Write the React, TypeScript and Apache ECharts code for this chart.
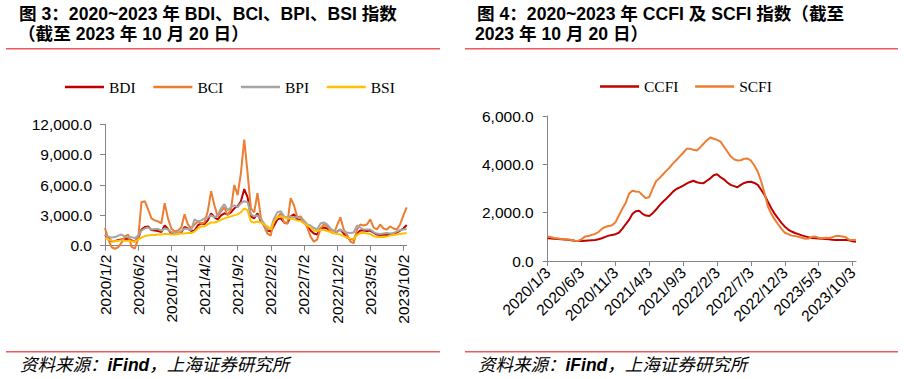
import React, { useEffect, useRef } from "react";
import * as echarts from "echarts";

// ---------- Data ----------
const leftTicks = ["2020/1/2", "2020/6/2", "2020/11/2", "2021/4/2", "2021/9/2", "2022/2/2", "2022/7/2", "2022/12/2", "2023/5/2", "2023/10/2"];
const rightTicks = ["2020/1/3", "2020/6/3", "2020/11/3", "2021/4/3", "2021/9/3", "2022/2/3", "2022/7/3", "2022/12/3", "2023/5/3", "2023/10/3"];

function halfMonthDates(d1: number, d2: number): string[] {
  const out: string[] = [];
  for (let y = 2020; y <= 2023; y++) {
    for (let m = 1; m <= 12; m++) {
      if (y === 2023 && m > 10) break;
      out.push(`${y}/${m}/${d1}`, `${y}/${m}/${d2}`);
    }
  }
  out[out.length - 1] = "2023/10/20";
  return out;
}
const leftCategories = halfMonthDates(2, 17);
const rightCategories = halfMonthDates(3, 18);

const BDI = [1100, 770, 440, 450, 560, 620, 640, 680, 520, 420, 750, 1600, 1850, 1900, 1550, 1500, 1450, 1350, 2000, 1650, 1200, 1150, 1200, 1300, 1850, 1700, 1450, 1500, 2000, 2200, 2150, 2500, 3200, 2800, 2600, 3000, 3200, 3100, 3300, 3700, 3900, 4400, 5600, 4800, 2900, 2700, 3200, 2400, 2000, 1500, 1400, 2000, 2600, 2700, 2300, 2200, 2900, 3100, 2600, 2600, 2400, 2000, 1500, 1200, 1100, 1700, 1800, 1700, 1400, 1250, 1400, 1600, 1200, 800, 650, 600, 1200, 1500, 1500, 1450, 1500, 1300, 1100, 1050, 1100, 1050, 1150, 1100, 1300, 1500, 1700, 2050];
const BCI = [1750, 600, -150, -300, -150, 300, 900, 1100, -100, -300, 700, 4300, 4400, 3600, 2700, 2500, 2400, 2200, 4200, 2700, 1700, 1400, 1500, 1800, 3100, 2100, 1700, 2100, 2400, 2200, 2300, 3400, 5400, 4000, 2900, 3400, 3800, 3000, 3600, 6000, 5000, 7200, 10500, 7200, 3700, 3300, 5200, 2800, 1900, 1200, 1000, 2600, 2800, 3200, 2300, 2200, 4700, 4000, 2800, 2900, 2400, 1800, 900, 400, 600, 1700, 2100, 1900, 1500, 1200, 2000, 2800, 1600, 1100, 400, 250, 1600, 2100, 2000, 2100, 2600, 1800, 1600, 2100, 1700, 1600, 1900, 1700, 1600, 2100, 3000, 3800];
const BPI = [1100, 900, 800, 850, 1000, 1100, 900, 800, 850, 750, 1000, 1500, 1700, 1800, 1600, 1650, 1650, 1500, 1700, 1600, 1350, 1250, 1300, 1450, 1700, 1650, 1550, 2600, 2400, 2500, 2700, 2800, 3000, 2800, 3000, 3700, 4100, 3500, 3800, 4000, 3800, 4200, 4400, 4300, 3100, 2900, 3000, 2600, 2200, 1600, 1700, 2700, 3300, 3400, 2900, 2800, 2900, 2800, 2800, 2700, 2500, 2100, 2000, 1750, 1600, 2200, 2300, 2100, 1700, 1500, 1350, 1600, 1400, 1300, 1250, 1300, 2000, 1800, 1600, 1600, 1600, 1350, 1200, 1150, 1200, 1250, 1200, 1250, 1400, 1550, 1600, 1650];
const BSI = [750, 650, 500, 450, 500, 550, 500, 480, 450, 420, 600, 800, 950, 1000, 1050, 1050, 1100, 1100, 1150, 1150, 1100, 1100, 1150, 1200, 1200, 1250, 1250, 1400, 1700, 1900, 1900, 2100, 2300, 2300, 2400, 2550, 2700, 2800, 2900, 3000, 3100, 3300, 3700, 3500, 2400, 2300, 2400, 2300, 2100, 1900, 1600, 2400, 2800, 2900, 2800, 2700, 2700, 2600, 2500, 2450, 2200, 2000, 1800, 1500, 1450, 1550, 1550, 1450, 1350, 1250, 1150, 1100, 950, 800, 700, 650, 1050, 1250, 1250, 1200, 1150, 950, 850, 850, 850, 900, 1000, 1050, 1100, 1150, 1200, 1250];

const CCFI = [940, 930, 920, 910, 900, 890, 880, 860, 840, 830, 830, 840, 850, 860, 870, 900, 940, 1000, 1050, 1080, 1110, 1170, 1330, 1520, 1700, 1950, 2060, 2080, 1950, 1880, 1860, 1980, 2130, 2300, 2450, 2580, 2720, 2870, 2980, 3050, 3120, 3200, 3270, 3320, 3260, 3230, 3220, 3320, 3420, 3550, 3590, 3470, 3380, 3250, 3150, 3100, 3050, 3150, 3230, 3270, 3280, 3230, 3150, 2950, 2730, 2450, 2180, 1950, 1760, 1580, 1420, 1300, 1220, 1160, 1110, 1060, 1020, 980, 950, 940, 930, 920, 910, 900, 880, 870, 870, 870, 870, 860, 820, 800];
const SCFI = [1010, 980, 950, 930, 910, 900, 890, 870, 840, 830, 900, 1010, 1030, 1080, 1120, 1200, 1330, 1410, 1450, 1480, 1600, 1880, 2150, 2400, 2780, 2910, 2880, 2860, 2720, 2600, 2650, 3000, 3300, 3430, 3580, 3730, 3870, 4040, 4180, 4330, 4480, 4640, 4650, 4600, 4570, 4700, 4850, 5000, 5110, 5060, 5010, 4940, 4740, 4530, 4330, 4210, 4160, 4170, 4230, 4240, 4150, 3950, 3700, 3300, 2800, 2250, 1950, 1720, 1520, 1330, 1170, 1110, 1050, 1030, 1000, 960, 920, 930, 1000, 1010, 960, 940, 960, 950, 980, 1030, 1040, 1010, 980, 880, 870, 880];

// ---------- Styles ----------
const SANS = "'Liberation Sans', Arial, 'Noto Sans CJK SC', sans-serif";
const SERIF = "'Liberation Serif', 'Times New Roman', serif";
const RED = "#C00000";
const ORANGE = "#ED7D31";
const GRAY = "#A5A5A5";
const GOLD = "#FFC000";
const AXIS = "#858585";
const RULE = "#F05A5A";

const fmt = (v: number) =>
  v.toLocaleString("en-US", { minimumFractionDigits: 1, maximumFractionDigits: 1 });

function xAxisFor(cats: string[], ticks: string[], grid: number, rotate: number) {
  const show = (_i: number, v: string) => ticks.includes(v);
  return {
    type: "category",
    gridIndex: grid,
    data: cats,
    boundaryGap: false,
    axisLine: { show: true, lineStyle: { color: AXIS, width: 1 } },
    axisTick: { show: true, interval: show, length: 5, lineStyle: { color: AXIS } },
    axisLabel: {
      interval: show,
      rotate,
      margin: 9,
      color: "#000",
      fontFamily: SANS,
      fontSize: 15.5,
    },
    splitLine: { show: false },
  };
}

function yAxisFor(max: number, interval: number, grid: number, margin: number) {
  return {
    type: "value",
    gridIndex: grid,
    min: 0,
    max,
    interval,
    axisLine: { show: true, lineStyle: { color: AXIS, width: 1 } },
    axisTick: { show: true, length: 5, lineStyle: { color: AXIS } },
    axisLabel: { formatter: fmt, margin, color: "#000", fontFamily: SANS, fontSize: 15.5 },
    splitLine: { show: false },
  };
}

function lineSeries(name: string, data: number[], color: string, axis: number) {
  return {
    name,
    type: "line",
    data,
    xAxisIndex: axis,
    yAxisIndex: axis,
    symbol: "none",
    clip: false,
    lineStyle: { color, width: 2 },
    itemStyle: { color },
  };
}

function textEl(x: number, y: number, text: string, style: any) {
  return {
    type: "text",
    x,
    y,
    style: { text, verticalAlign: "middle", align: "left", fill: "#000", ...style },
  };
}

function ruleEl(x1: number, x2: number, y: number) {
  return {
    type: "line",
    shape: { x1, y1: y, x2, y2: y },
    style: { stroke: RULE, lineWidth: 1.5 },
  };
}

const titleStyle = { fontFamily: SANS, fontSize: 17.6, fontWeight: "bold" };

function sourceEl(x: number, y: number) {
  return {
    type: "text",
    x,
    y,
    style: {
      text: "{a|资料来源：}{b|iFind}{a|，上海证券研究所}",
      verticalAlign: "middle",
      align: "left",
      rich: {
        a: { fontFamily: SANS, fontSize: 17.5, fontStyle: "italic", fill: "#000" },
        b: { fontFamily: SANS, fontSize: 17.5, fontStyle: "italic", fontWeight: "bold", fill: "#000" },
      },
    },
  };
}

const legendBase = {
  icon: "rect",
  itemWidth: 39,
  itemHeight: 2.5,
  padding: 0,
  textStyle: { fontFamily: SERIF, fontSize: 15.5, color: "#000" },
};

export default function App() {
  const ref = useRef<HTMLDivElement>(null);

  useEffect(() => {
    document.body.style.margin = "0";
    if (!ref.current) return;
    const chart = echarts.init(ref.current, undefined, { renderer: "svg" });
    chart.setOption({
      animation: false,
      backgroundColor: "#fff",
      grid: [
        { left: 105, top: 124.3, width: 301.7, height: 121.4 },
        { left: 547.7, top: 116, width: 308.3, height: 145 },
      ],
      legend: [
        { ...legendBase, data: ["BDI", "BCI", "BPI", "BSI"], left: 65, top: 79, itemGap: 17.7 },
        { ...legendBase, data: ["CCFI", "SCFI"], left: 600, top: 78.5, itemGap: 16.7 },
      ],
      xAxis: [
        xAxisFor(leftCategories, leftTicks, 0, 90),
        xAxisFor(rightCategories, rightTicks, 1, 45),
      ],
      yAxis: [yAxisFor(12000, 3000, 0, 13), yAxisFor(6000, 2000, 1, 14)],
      series: [
        lineSeries("BDI", BDI, RED, 0),
        lineSeries("BCI", BCI, ORANGE, 0),
        lineSeries("BPI", BPI, GRAY, 0),
        lineSeries("BSI", BSI, GOLD, 0),
        lineSeries("CCFI", CCFI, RED, 1),
        lineSeries("SCFI", SCFI, ORANGE, 1),
      ],
      graphic: [
        textEl(19, 13.5, "图 3：2020~2023 年 BDI、BCI、BPI、BSI 指数", titleStyle),
        textEl(18, 34, "（截至 2023 年 10 月 20 日）", titleStyle),
        textEl(477, 13.5, "图 4：2020~2023 年 CCFI 及 SCFI 指数（截至", titleStyle),
        textEl(475, 34, "2023 年 10 月 20 日）", titleStyle),
        ruleEl(6, 440, 48.7),
        ruleEl(465, 898, 48.7),
        ruleEl(6, 440, 351.7),
        ruleEl(465, 898, 351.7),
        sourceEl(20, 365),
        sourceEl(478, 365),
      ],
    });
    return () => chart.dispose();
  }, []);

  return <div ref={ref} style={{ width: 904, height: 379 }} />;
}
